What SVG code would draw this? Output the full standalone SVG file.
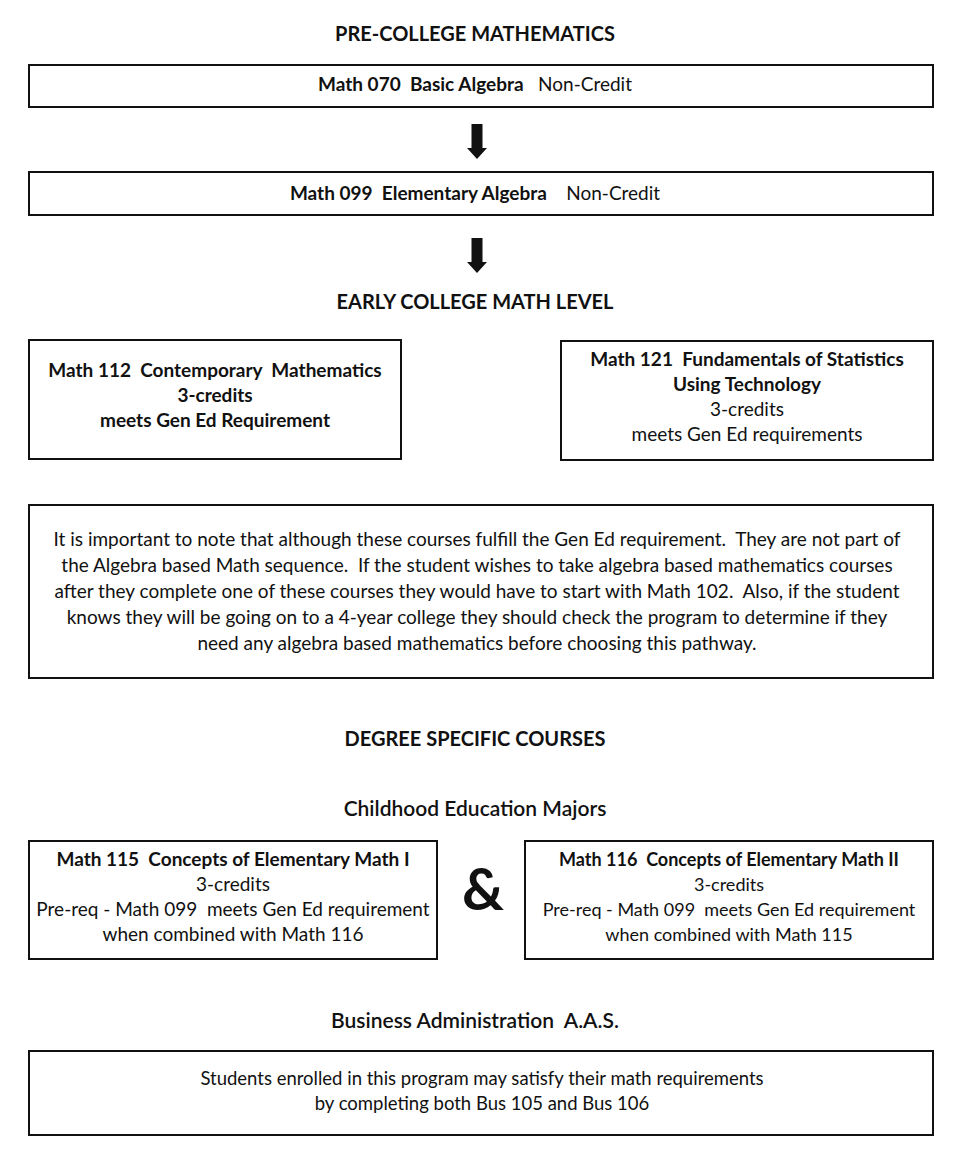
<svg xmlns="http://www.w3.org/2000/svg" width="956" height="1161" viewBox="0 0 956 1161">
<style>
text{font-family:"Lato","Open Sans","Noto Sans",sans-serif;font-size:19px;fill:#111;text-anchor:middle;white-space:pre}
.b{font-weight:700}
.s{font-weight:600;font-size:21px}
.h{font-size:20px}
.m{font-size:18px}
.box{fill:#fff;stroke:#111;stroke-width:2}
.arr{fill:#111}
</style>
<rect width="956" height="1161" fill="#fff"/>
<text class="b h" x="475" y="41">PRE-COLLEGE MATHEMATICS</text>
<g id="math070">
<rect class="box" x="29" y="65" width="904" height="42"/>
<text x="475" y="91"><tspan class="b">Math 070  Basic Algebra</tspan>   Non-Credit</text>
</g>
<g id="math099">
<rect class="box" x="29" y="172" width="904" height="43"/>
<text x="475" y="200"><tspan class="b">Math 099  Elementary Algebra</tspan>    Non-Credit</text>
</g>
<g id="connectors">
<path class="arr" d="M471.5 124H482.5V148H487L477 159L467 148H471.5Z"/>
<path class="arr" d="M471.5 238H482.5V262H487L477 273L467 262H471.5Z"/>
</g>
<text class="b h" x="475" y="309">EARLY COLLEGE MATH LEVEL</text>
<g id="math112">
<rect class="box" x="29" y="340" width="372" height="119"/>
<text class="b" x="215" y="377">Math 112  Contemporary  Mathematics</text>
<text class="b" x="215" y="402">3-credits</text>
<text class="b" x="215" y="427">meets Gen Ed Requirement</text>
</g>
<g id="math121">
<rect class="box" x="561" y="341" width="372" height="119"/>
<text class="b" x="747" y="366">Math 121  Fundamentals of Statistics</text>
<text class="b" x="747" y="391">Using Technology</text>
<text x="747" y="416">3-credits</text>
<text x="747" y="441">meets Gen Ed requirements</text>
</g>
<g id="note">
<rect class="box" x="29" y="505" width="904" height="173"/>
<text x="477" y="546">It is important to note that although these courses fulfill the Gen Ed requirement.  They are not part of</text>
<text x="477" y="572">the Algebra based Math sequence.  If the student wishes to take algebra based mathematics courses</text>
<text x="477" y="598">after they complete one of these courses they would have to start with Math 102.  Also, if the student</text>
<text x="477" y="624">knows they will be going on to a 4-year college they should check the program to determine if they</text>
<text x="477" y="650">need any algebra based mathematics before choosing this pathway.</text>
</g>
<text class="b h" x="475" y="746">DEGREE SPECIFIC COURSES</text>
<text class="s" x="475" y="816">Childhood Education Majors</text>
<g id="math115">
<rect class="box" x="29" y="841" width="408" height="118"/>
<text class="b" x="233" y="866">Math 115  Concepts of Elementary Math I</text>
<text x="233" y="891">3-credits</text>
<text x="233" y="916">Pre-req - Math 099  meets Gen Ed requirement</text>
<text x="233" y="941">when combined with Math 116</text>
</g>
<text x="483" y="910" style="font-size:58px;font-weight:700">&amp;</text>
<g id="math116">
<rect class="box" x="525" y="841" width="408" height="118"/>
<text class="b m" x="729" y="866">Math 116  Concepts of Elementary Math II</text>
<text class="m" x="729" y="891">3-credits</text>
<text class="m" x="729" y="916">Pre-req - Math 099  meets Gen Ed requirement</text>
<text class="m" x="729" y="941">when combined with Math 115</text>
</g>
<text class="s" x="475" y="1028">Business Administration  A.A.S.</text>
<g id="business">
<rect class="box" x="29" y="1051" width="904" height="84"/>
<text x="482" y="1085" style="font-size:18.5px">Students enrolled in this program may satisfy their math requirements</text>
<text x="482" y="1110" style="font-size:18.5px">by completing both Bus 105 and Bus 106</text>
</g>
</svg>
